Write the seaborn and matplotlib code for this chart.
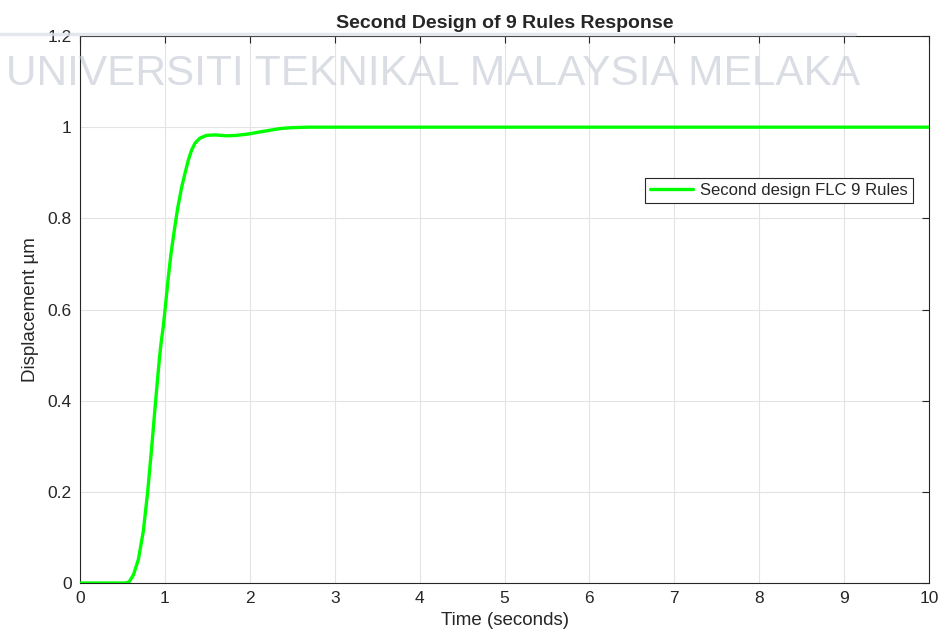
import numpy as np
import pandas as pd
import matplotlib
matplotlib.use("Agg")
import matplotlib.pyplot as plt
import seaborn as sns

# Step response of the second FLC design (9 rules)
time_s = [0.0, 0.30, 0.53, 0.577, 0.63, 0.688, 0.746, 0.797, 0.844, 0.891,
          0.934, 0.954, 0.981, 1.009, 1.04, 1.072, 1.111, 1.15, 1.198, 1.237,
          1.276, 1.315, 1.355, 1.413, 1.492, 1.59, 1.727, 1.845, 1.982, 2.1,
          2.2, 2.356, 2.5, 2.7, 3.0, 5.0, 7.5, 10.0]
displacement = [0.0, 0.0, 0.0, 0.002, 0.018, 0.052, 0.114, 0.200, 0.297, 0.400,
                0.490, 0.525, 0.563, 0.613, 0.671, 0.723, 0.774, 0.822, 0.869, 0.899,
                0.928, 0.950, 0.965, 0.976, 0.982, 0.983, 0.981, 0.982, 0.985, 0.989,
                0.992, 0.997, 0.999, 1.0, 1.0, 1.0, 1.0, 1.0]

x_ticks = list(range(0, 11))
y_ticks = [0, 0.2, 0.4, 0.6, 0.8, 1.0, 1.2]
y_tick_labels = ["0", "0.2", "0.4", "0.6", "0.8", "1", "1.2"]

title = "Second Design of 9 Rules Response"
x_label = "Time (seconds)"
y_label = "Displacement µm"
series_name = "Second design FLC 9 Rules"
watermark = "UNIVERSITI TEKNIKAL MALAYSIA MELAKA"

sns.set_theme(style="white")
plt.rcParams["font.family"] = ["Liberation Sans", "DejaVu Sans"]

df = pd.DataFrame({"t": time_s, "y": displacement})

fig = plt.figure(figsize=(9.38, 6.43), dpi=100)
ax = fig.add_axes([0.0853, 0.0933, 0.9051, 0.8507])

sns.lineplot(data=df, x="t", y="y", ax=ax, color="#00ff00", linewidth=2.4,
             label=series_name, zorder=3)

ax.set_xlim(0, 10)
ax.set_ylim(0, 1.2)
ax.set_xticks(x_ticks)
ax.set_xticklabels([str(v) for v in x_ticks])
ax.set_yticks(y_ticks)
ax.set_yticklabels(y_tick_labels)

ax.grid(True, color="#e3e3e3", linewidth=0.8)
ax.set_axisbelow(True)
ax.tick_params(direction="in", length=5, width=0.8, colors="#262626",
               labelsize=12.5, top=True, right=True, pad=6)
for s in ax.spines.values():
    s.set_color("#262626")
    s.set_linewidth(0.8)
    s.set_visible(True)

ax.set_title(title, fontsize=14, fontweight="bold", color="#262626", pad=6)
ax.set_xlabel(x_label, fontsize=13.5, color="#262626", labelpad=4)
ax.set_ylabel(y_label, fontsize=13.5, color="#262626", labelpad=6)

leg = ax.legend(loc="upper right", bbox_to_anchor=(0.981, 0.741), fontsize=12,
                frameon=True, fancybox=False, framealpha=1, edgecolor="#262626",
                handlelength=2.6, borderpad=0.3, handletextpad=0.4,
                borderaxespad=0)
leg.get_frame().set_linewidth(0.8)

# faint institutional watermark across the top
fig.add_artist(plt.Line2D([0.0, 0.912], [0.947, 0.947], transform=fig.transFigure,
                          color="#dfe2ea", linewidth=2.5, alpha=0.8, zorder=10))
fig.text(0.006, 1 - 85 / 643, watermark, fontsize=30.5,
         family=["Liberation Sans", "DejaVu Sans"],
         color="#c2c7d3", alpha=0.6, ha="left", va="baseline", zorder=10)

fig.savefig("out.png", dpi=100)
